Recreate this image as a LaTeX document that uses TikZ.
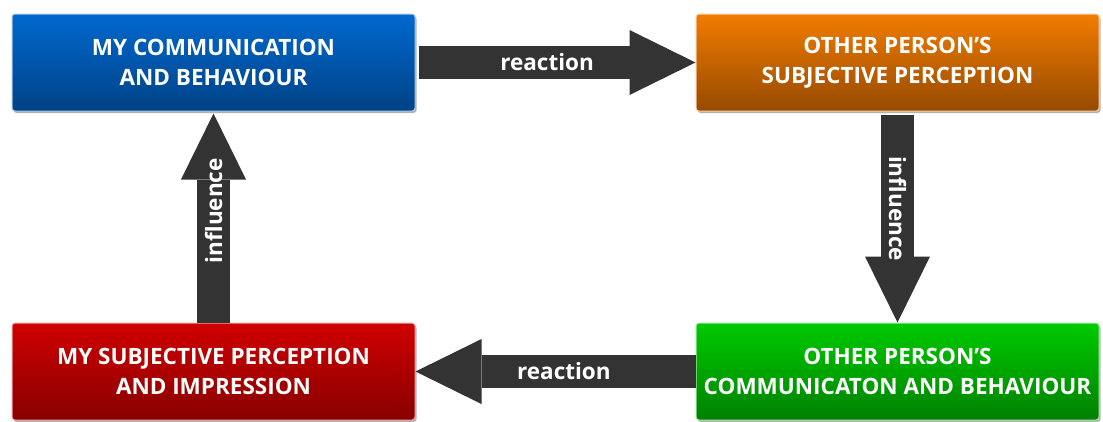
\documentclass[tikz,border=0pt]{standalone}
\usepackage{fontspec}
\setmainfont{Open Sans}
\usetikzlibrary{positioning,arrows.meta,shadows}
\definecolor{bluetop}{RGB}{0,104,206}
\definecolor{bluebot}{RGB}{0,66,134}
\definecolor{orangetop}{RGB}{242,124,0}
\definecolor{orangebot}{RGB}{150,74,0}
\definecolor{redtop}{RGB}{208,0,0}
\definecolor{redbot}{RGB}{136,0,0}
\definecolor{greentop}{RGB}{0,202,0}
\definecolor{greenbot}{RGB}{0,128,0}
\definecolor{arrowgrey}{RGB}{51,51,51}

\begin{document}
\begin{tikzpicture}[x=1pt,y=1pt,
    statebox/.style 2 args={rectangle, rounded corners=3pt, minimum width=403pt, minimum height=97pt,
        top color=#1, bottom color=#2, draw=white!65!#1, line width=1pt,
        drop shadow={shadow xshift=1.5pt, shadow yshift=-2pt, opacity=.3, fill=black},
        text=white, align=center, font=\fontsize{22.5}{30}\selectfont\bfseries},
    flowarrow/.style={draw=arrowgrey, line width=33pt,
        -{Triangle[length=66pt,width=65pt,line width=0pt]}},
    arrowlabel/.style={text=white, font=\fontsize{22.5}{24}\selectfont\bfseries, inner sep=0pt}]
    \useasboundingbox (0,0) rectangle (1103,-421);

    \node[statebox={bluetop}{bluebot}] (mycomm) at (213.5,-62.5) {MY COMMUNICATION\\AND BEHAVIOUR};
    \node[statebox={orangetop}{orangebot}, right=280pt of mycomm] (otherperc) {OTHER PERSON’S\\SUBJECTIVE PERCEPTION};
    \node[statebox={redtop}{redbot}, below=211pt of mycomm] (myperc) {MY SUBJECTIVE PERCEPTION\\AND IMPRESSION};
    \node[statebox={greentop}{greenbot}, right=280pt of myperc] (othercomm) {OTHER PERSON’S\\COMMUNICATON AND BEHAVIOUR};

    \draw[flowarrow, shorten <=3pt] (mycomm) -- node[pos=.47, arrowlabel] {reaction} (otherperc);
    \draw[flowarrow, shorten <=3pt] (otherperc) -- node[pos=.46, arrowlabel, rotate=-90] {influence} (othercomm);
    \draw[flowarrow] (othercomm) -- node[pos=.47, arrowlabel] {reaction} (myperc);
    \draw[flowarrow, shorten >=2pt] (myperc) -- node[pos=.53, arrowlabel, rotate=90] {influence} (mycomm);
\end{tikzpicture}
\end{document}
